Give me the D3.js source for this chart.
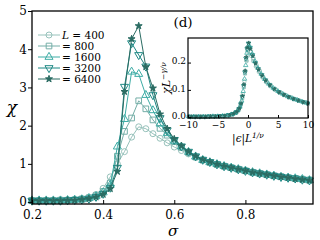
<!DOCTYPE html>
<html>
<head>
<meta charset="utf-8">
<script src="https://cdn.jsdelivr.net/npm/d3@7"></script>
<style>
  body { margin: 0; background: #fff; }
  svg { display: block; font-family: "DejaVu Serif", serif; }
</style>
</head>
<body>
<script>
// main panel data: sigma vs chi for each L
var sigma = [0.20,0.22,0.24,0.26,0.28,0.30,0.32,0.34,0.36,0.38,
             0.40,0.42,0.44,0.46,0.48,0.50,0.52,0.54,0.56,0.58,
             0.60,0.62,0.64,0.66,0.68,0.70,0.72,0.74,0.76,0.78,
             0.80,0.82,0.84,0.86,0.88,0.90,0.92,0.94,0.96,0.98];

var chi400  = [0.05,0.05,0.05,0.05,0.06,0.06,0.07,0.09,0.13,0.20,
               0.36,0.66,1.00,1.32,1.70,1.97,1.92,1.79,1.67,1.55,
               1.44,1.35,1.26,1.17,1.10,1.04,0.99,0.94,0.90,0.86,
               0.82,0.78,0.75,0.72,0.69,0.67,0.64,0.62,0.60,0.58];
var chi800  = [0.04,0.04,0.04,0.04,0.05,0.05,0.06,0.08,0.11,0.17,
               0.28,0.50,1.20,1.85,2.20,2.65,2.44,2.15,1.93,1.75,
               1.58,1.43,1.30,1.18,1.10,1.04,0.99,0.94,0.90,0.86,
               0.82,0.78,0.75,0.72,0.69,0.67,0.64,0.62,0.60,0.58];
var chi1600 = [0.04,0.04,0.04,0.04,0.04,0.05,0.06,0.07,0.10,0.15,
               0.25,0.45,1.45,2.17,3.41,3.35,2.80,2.40,2.05,1.80,
               1.60,1.45,1.31,1.19,1.10,1.04,0.99,0.94,0.90,0.86,
               0.82,0.78,0.75,0.72,0.69,0.66,0.64,0.62,0.60,0.57];
var chi3200 = [0.04,0.04,0.04,0.04,0.04,0.05,0.06,0.07,0.09,0.14,
               0.22,0.38,0.90,3.02,4.16,3.85,3.55,2.80,2.20,1.88,
               1.63,1.46,1.32,1.20,1.11,1.05,0.99,0.94,0.90,0.86,
               0.82,0.78,0.75,0.72,0.69,0.66,0.64,0.62,0.59,0.57];
var chi6400 = [0.04,0.04,0.04,0.04,0.04,0.05,0.05,0.07,0.09,0.13,
               0.20,0.35,0.80,2.89,4.27,4.61,3.54,2.98,2.30,1.92,
               1.65,1.47,1.32,1.20,1.11,1.05,0.99,0.94,0.90,0.86,
               0.82,0.78,0.75,0.72,0.69,0.66,0.64,0.61,0.59,0.57];

// inset data: scaled collapse
var inX400 = [-10,-9.2,-8.4,-7.6,-6.8,-6.0,-5.2,-4.4,-3.6,-2.9,-2.3,-1.8,-1.4,-1.1,-0.85,-0.6,-0.4,-0.2,0.1,0.45,0.85,1.3,1.8,2.4,3.0,3.7,4.4,5.2,6.0,6.8,7.6,8.4,9.2,10];
var inY400 = [0.002,0.002,0.002,0.002,0.002,0.003,0.003,0.004,0.006,0.009,0.014,0.022,0.035,0.055,0.085,0.13,0.17,0.205,0.23,0.225,0.205,0.185,0.165,0.145,0.128,0.113,0.101,0.09,0.081,0.073,0.067,0.061,0.056,0.052];
var inX800 = [-9.7,-8.9,-8.1,-7.3,-6.5,-5.7,-4.9,-4.1,-3.3,-2.6,-2.0,-1.6,-1.25,-0.95,-0.7,-0.5,-0.3,-0.1,0.15,0.5,0.9,1.4,1.95,2.5,3.1,3.8,4.6,5.4,6.2,7.0,7.8,8.6,9.4];
var inY800 = [0.002,0.002,0.002,0.002,0.003,0.003,0.004,0.005,0.007,0.011,0.017,0.027,0.045,0.07,0.11,0.16,0.21,0.245,0.255,0.24,0.215,0.19,0.168,0.148,0.13,0.115,0.101,0.09,0.081,0.073,0.066,0.06,0.055];
var inX1600 = [-9.85,-9.05,-8.25,-7.45,-6.65,-5.85,-5.05,-4.25,-3.45,-2.75,-2.15,-1.7,-1.35,-1.05,-0.8,-0.58,-0.38,-0.18,0.05,0.3,0.7,1.15,1.65,2.2,2.8,3.45,4.2,5.0,5.8,6.6,7.4,8.2,9.0,9.8];
var inY1600 = [0.002,0.002,0.002,0.002,0.002,0.003,0.003,0.004,0.006,0.01,0.015,0.024,0.038,0.06,0.095,0.14,0.19,0.235,0.262,0.258,0.232,0.205,0.18,0.158,0.139,0.122,0.107,0.095,0.085,0.076,0.069,0.063,0.057,0.052];
var inX3200 = [-9.6,-8.8,-8.0,-7.2,-6.4,-5.6,-4.8,-4.0,-3.2,-2.5,-1.95,-1.5,-1.2,-0.95,-0.72,-0.52,-0.34,-0.15,0.08,0.35,0.75,1.2,1.7,2.3,2.9,3.6,4.3,5.1,5.9,6.7,7.5,8.3,9.1,9.9];
var inY3200 = [0.002,0.002,0.002,0.002,0.003,0.003,0.004,0.005,0.008,0.012,0.019,0.03,0.048,0.075,0.115,0.165,0.215,0.25,0.27,0.255,0.228,0.2,0.177,0.155,0.136,0.119,0.105,0.093,0.083,0.075,0.068,0.062,0.056,0.051];
var inX6400 = [-9.45,-8.65,-7.85,-7.05,-6.25,-5.45,-4.65,-3.85,-3.05,-2.4,-1.85,-1.45,-1.15,-0.9,-0.68,-0.48,-0.3,-0.12,0.12,0.4,0.8,1.25,1.75,2.35,2.95,3.65,4.4,5.2,6.0,6.8,7.6,8.4,9.2,10];
var inY6400 = [0.002,0.002,0.002,0.002,0.003,0.003,0.004,0.005,0.008,0.013,0.02,0.032,0.05,0.078,0.12,0.17,0.22,0.255,0.272,0.25,0.224,0.197,0.174,0.152,0.134,0.117,0.103,0.091,0.082,0.074,0.067,0.061,0.055,0.05];

var labels = ["400", "800", "1600", "3200", "6400"];
var xTicks = [0.2, 0.4, 0.6, 0.8];
var yTicks = [0, 1, 2, 3, 4, 5];
var inXTicks = [-10, -5, 0, 5, 10];
var inYTicks = [0, 0.1, 0.2];

var series = [
  {name: labels[0], chi: chi400,  ix: inX400,  iy: inY400,  color: "#97c2bb", shape: "circle"},
  {name: labels[1], chi: chi800,  ix: inX800,  iy: inY800,  color: "#74aea7", shape: "square"},
  {name: labels[2], chi: chi1600, ix: inX1600, iy: inY1600, color: "#3daca5", shape: "tri"},
  {name: labels[3], chi: chi3200, ix: inX3200, iy: inY3200, color: "#1d8884", shape: "tridown"},
  {name: labels[4], chi: chi6400, ix: inX6400, iy: inY6400, color: "#2b6c63", shape: "star"}
];

var svg = d3.select("body").append("svg")
    .attr("width", 320)
    .attr("height", 240);

var x = d3.scaleLinear().domain([0.2, 0.99]).range([32, 313]);
var y = d3.scaleLinear().domain([-0.05, 5]).range([204, 11]);

function marker(sel, s, big) {
  var k = big ? 1 : 0.55;
  if (s.shape == "circle") {
    sel.append("circle").attr("r", 3 * k);
  } else if (s.shape == "square") {
    sel.append("path").attr("d", d3.symbol(d3.symbolSquare, 32 * k * k)());
  } else if (s.shape == "tri") {
    sel.append("path").attr("d", d3.symbol(d3.symbolTriangle, 28 * k * k)());
  } else if (s.shape == "tridown") {
    sel.append("path").attr("d", d3.symbol(d3.symbolTriangle, 28 * k * k)())
      .attr("transform", "rotate(180)");
  } else {
    sel.append("path").attr("d", d3.symbol(d3.symbolStar, 15 * k * k)());
  }
  sel.selectAll("*")
    .attr("fill", s.shape == "star" ? s.color : "none")
    .attr("stroke", s.color)
    .attr("stroke-width", big ? 1 : 0.8);
}

// main curves
var line = d3.line()
  .x(function(d){ return x(d[0]); })
  .y(function(d){ return y(d[1]); });

series.forEach(function(s){
  var pts = d3.zip(sigma, s.chi);
  svg.append("path")
    .datum(pts)
    .attr("d", line)
    .attr("fill", "none")
    .attr("stroke", s.color)
    .attr("stroke-width", 1);
  svg.selectAll(null)
    .data(pts)
    .enter()
    .append("g")
    .attr("transform", function(d){ return "translate(" + x(d[0]) + "," + y(d[1]) + ")"; })
    .each(function(){ marker(d3.select(this), s, true); });
});

// main axes
var gx = svg.append("g")
  .attr("transform", "translate(0,204)")
  .call(d3.axisBottom(x).tickValues(xTicks).tickSize(-4).tickPadding(6).tickFormat(d3.format(".1f")));
var gy = svg.append("g")
  .attr("transform", "translate(32,0)")
  .call(d3.axisLeft(y).tickValues(yTicks).tickSize(4).tickPadding(1).tickFormat(d3.format("d")));
[gx, gy].forEach(function(g){
  g.select(".domain").remove();
  g.selectAll("line").attr("stroke", "#000").attr("stroke-width", 1);
  g.selectAll("text").attr("font-size", 12).attr("fill", "#000")
    .attr("font-family", "DejaVu Serif");
});
svg.append("rect")
  .attr("x", 32).attr("y", 11)
  .attr("width", 281).attr("height", 193)
  .attr("fill", "none").attr("stroke", "#000").attr("stroke-width", 1.3);

svg.append("text").attr("x", 12).attr("y", 113)
  .attr("text-anchor", "middle").attr("font-size", 17).attr("font-style", "italic")
  .text("χ");
svg.append("text").attr("x", 173).attr("y", 236)
  .attr("text-anchor", "middle").attr("font-size", 15).attr("font-style", "italic")
  .text("σ");

// legend
series.forEach(function(s, i){
  var ly = 35 + i * 11;
  svg.append("line").attr("x1", 38).attr("x2", 60).attr("y1", ly).attr("y2", ly)
    .attr("stroke", s.color).attr("stroke-width", 1);
  var g = svg.append("g").attr("transform", "translate(49," + ly + ")");
  marker(g, s, true);
  var t = svg.append("text").attr("x", 62).attr("y", ly + 4).attr("font-size", 10.5);
  if (i == 0) t.append("tspan").attr("font-style", "italic").text("L ");
  t.append("tspan").text("= " + s.name);
});

svg.append("text").attr("x", 183).attr("y", 27)
  .attr("text-anchor", "middle").attr("font-size", 13.5).text("(d)");

// inset
var xi = d3.scaleLinear().domain([-10, 10]).range([188, 308]);
var yi = d3.scaleLinear().domain([-0.003, 0.29]).range([118, 38]);

svg.append("rect").attr("x", 188).attr("y", 38).attr("width", 120).attr("height", 80)
  .attr("fill", "#fff");

series.forEach(function(s){
  var pts = d3.zip(s.ix, s.iy);
  svg.selectAll(null)
    .data(pts)
    .enter()
    .append("g")
    .attr("transform", function(d){ return "translate(" + xi(d[0]) + "," + yi(d[1]) + ")"; })
    .each(function(){ marker(d3.select(this), s, false); });
});

var gix = svg.append("g")
  .attr("transform", "translate(0,118)")
  .call(d3.axisBottom(xi).tickValues(inXTicks).tickSize(-3).tickPadding(4)
    .tickFormat(function(d){ return d < 0 ? "\u2212" + (-d) : d; }));
var giy = svg.append("g")
  .attr("transform", "translate(188,0)")
  .call(d3.axisLeft(yi).tickValues(inYTicks).tickSize(-3).tickPadding(2).tickFormat(d3.format(".1f")));
[gix, giy].forEach(function(g){
  g.select(".domain").remove();
  g.selectAll("line").attr("stroke", "#000").attr("stroke-width", 1);
  g.selectAll("text").attr("font-size", 9).attr("fill", "#000")
    .attr("font-family", "DejaVu Serif");
});
giy.selectAll("text").attr("dy", "0.15em");
svg.append("rect").attr("x", 188).attr("y", 38).attr("width", 120).attr("height", 80)
  .attr("fill", "none").attr("stroke", "#000").attr("stroke-width", 1.2);

var ylab = svg.append("text")
  .attr("transform", "translate(170,78) rotate(-90)")
  .attr("text-anchor", "middle").attr("font-size", 11);
ylab.append("tspan").attr("font-style", "italic").text("χL");
ylab.append("tspan").attr("font-size", 7.5).attr("dy", -4).attr("font-style", "italic").text("−γ/ν");

var xlab = svg.append("text").attr("x", 248).attr("y", 142)
  .attr("text-anchor", "middle").attr("font-size", 10.5);
xlab.append("tspan").text("|");
xlab.append("tspan").attr("font-style", "italic").text("ϵ");
xlab.append("tspan").text("|");
xlab.append("tspan").attr("font-style", "italic").text("L");
xlab.append("tspan").attr("font-size", 7.5).attr("dy", -4).attr("font-style", "italic").text("1/ν");
</script>
</body>
</html>
